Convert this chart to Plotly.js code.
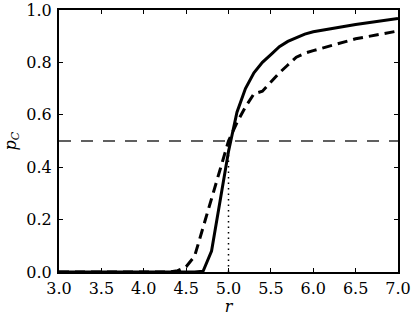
<!DOCTYPE html>
<html>
<head>
<meta charset="utf-8">
<script src="https://cdn.plot.ly/plotly-3.0.1.min.js"></script>
<style>html,body{margin:0;padding:0;background:#fff;}#chart{width:415px;height:316px;}</style>
</head>
<body>
<div id="chart"></div>
<script>
const rSolid = [3.0, 3.5, 4.0, 4.5, 4.6, 4.7, 4.8, 4.9, 5.0, 5.1, 5.2, 5.3, 5.4, 5.5, 5.6, 5.7, 5.8, 5.9, 6.0, 6.5, 7.0];
const pSolid = [0.0, 0.0, 0.0, 0.0, 0.0, 0.003, 0.08, 0.27, 0.46, 0.61, 0.70, 0.76, 0.80, 0.83, 0.86, 0.88, 0.895, 0.908, 0.917, 0.945, 0.968];
const rDashed = [3.0, 3.5, 4.0, 4.3, 4.4, 4.5, 4.6, 4.7, 4.8, 4.9, 5.0, 5.1, 5.2, 5.3, 5.4, 5.5, 5.6, 5.7, 5.8, 5.9, 6.0, 6.5, 7.0];
const pDashed = [0.0, 0.0, 0.0, 0.0, 0.005, 0.02, 0.06, 0.17, 0.29, 0.40, 0.50, 0.57, 0.63, 0.68, 0.69, 0.725, 0.76, 0.79, 0.82, 0.835, 0.845, 0.89, 0.92];
const threshold = 0.5;
const rCritical = 5.0;
const xTicks = [3.0, 3.5, 4.0, 4.5, 5.0, 5.5, 6.0, 6.5, 7.0];
const yTicks = [0.0, 0.2, 0.4, 0.6, 0.8, 1.0];

const traces = [
  {x: [3.0, 7.0], y: [threshold, threshold], mode: 'lines', line: {color: '#606060', width: 2, dash: '12px,10px'}, hoverinfo: 'skip'},
  {x: [rCritical, rCritical], y: [0, threshold], mode: 'lines', line: {color: '#000', width: 1.5, dash: '1.5px,4px'}, hoverinfo: 'skip'},
  {x: rDashed, y: pDashed, mode: 'lines', line: {color: '#000', width: 3, dash: '10px,6px'}},
  {x: rSolid, y: pSolid, mode: 'lines', line: {color: '#000', width: 3}}
];

const font = {family: 'DejaVu Serif', size: 16, color: '#000'};
const axisCommon = {
  showline: true, linewidth: 2, linecolor: '#000', mirror: 'ticks',
  ticks: 'inside', ticklen: 4, tickwidth: 1, tickcolor: '#000',
  showgrid: false, zeroline: false, tickfont: font
};
const layout = {
  width: 415, height: 316,
  margin: {l: 59, r: 17, t: 10, b: 44},
  paper_bgcolor: '#fff', plot_bgcolor: '#fff',
  showlegend: false,
  font: font,
  xaxis: Object.assign({}, axisCommon, {
    range: [3.0, 7.0], tickvals: xTicks, ticktext: xTicks.map(v => v.toFixed(1)),
    ticklabelstandoff: 1,
    title: {text: '<i>r</i>', font: font, standoff: 7}
  }),
  yaxis: Object.assign({}, axisCommon, {
    range: [0.0, 1.0], tickvals: yTicks, ticktext: yTicks.map(v => v.toFixed(1)),
    ticklabelstandoff: 2,
    title: {text: '<i>p</i><sub><i>C</i></sub>', font: font, standoff: 6}
  })
};
Plotly.newPlot('chart', traces, layout, {displayModeBar: false, staticPlot: true});
</script>
</body>
</html>
